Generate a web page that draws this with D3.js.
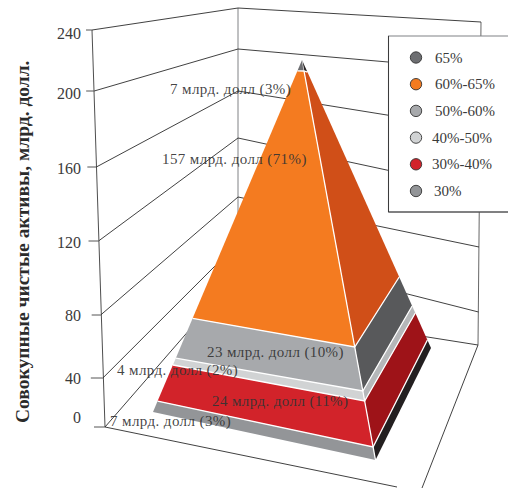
<!DOCTYPE html>
<html><head><meta charset="utf-8">
<script src="https://cdn.jsdelivr.net/npm/d3@7"></script>
<style>html,body{margin:0;padding:0;background:#fff}svg{display:block}text{font-family:"Liberation Serif",serif}</style>
</head><body><div id="c"></div>
<script>
// ---- data (bottom tier first) ----
const tiers  = ["30%","30%-40%","40%-50%","50%-60%","60%-65%","65%"];
const values = [7,24,4,23,157,7];
const shares = [3,11,2,10,71,3];
const unit   = "млрд. долл";
const axisTicks = [0,40,80,120,160,200,240];
const yTitle = "Совокупные чистые активы, млрд. долл.";

// ---- styles per tier ----
const frontColors = ["#939598","#d2232a","#d1d3d4","#a7a9ac","#f47b20","#6d6e71"];
const sideColors  = ["#231f20","#9e1318","#b5b7b9","#58595b","#d04f18","#231f20"];

// ---- layout ----
const W=508,H=488;
const svg=d3.select("#c").append("svg").attr("width",W).attr("height",H);

// wall projection: value -> screen y at each wall edge
const leftX  = d3.scaleLinear().domain([0,240]).range([105,92]);
const leftY  = d3.scaleLinear().domain(axisTicks).range([427,378,315,241,167,91,30]);
const backX  = 238;
const backYL = d3.scaleLinear().domain(axisTicks).range([274,243,197,138,91,49,8]);
const backYR = d3.scaleLinear().domain(axisTicks).range([307,251,197,138,91,49,8]);
const rightX = d3.scaleLinear().domain([0,240]).range([478,481]);
const rightY = d3.scaleLinear().domain(axisTicks).range([345,312,247,190,130,70,22]);
const tickLen= d3.scaleLinear().domain(axisTicks).range([11,12,9,10,9,8,6]);
const tickLabelDy=d3.scaleLinear().domain(axisTicks).range([-4.5,5.5,5.5,6.5,6.5,7.5,8.5]);

const walls=svg.append("g").attr("fill","none");
walls.append("line").attr("x1",backX).attr("x2",backX).attr("y1",backYL(240)).attr("y2",330).attr("stroke","#808285").attr("stroke-width",1);
walls.append("line").attr("x1",leftX(0)).attr("x2",leftX(240)).attr("y1",leftY(0)).attr("y2",leftY(240)).attr("stroke","#3a3a3a").attr("stroke-width",.9);
walls.append("line").attr("x1",rightX(0)).attr("x2",rightX(240)).attr("y1",rightY(0)).attr("y2",rightY(240)).attr("stroke","#555").attr("stroke-width",.9);
axisTicks.forEach(t=>{
  const p=d3.path();
  p.moveTo(leftX(t),leftY(t)); p.lineTo(backX,backYL(t));
  p.moveTo(backX,backYR(t)); p.lineTo(rightX(t),rightY(t));
  walls.append("path").attr("d",p).attr("stroke","#2b2b2b").attr("stroke-width",.9);
  walls.append("line").attr("x1",leftX(t)-tickLen(t)).attr("x2",leftX(t)).attr("y1",leftY(t)).attr("y2",leftY(t))
    .attr("stroke","#555").attr("stroke-width",1);
  svg.append("text").attr("x",81).attr("y",leftY(t)+tickLabelDy(t)).attr("text-anchor","end")
    .attr("font-size",16).attr("fill","#3a3a3a").text(t);
});
// floor
walls.append("line").attr("x1",leftX(0)).attr("y1",leftY(0)).attr("x2",397).attr("y2",487).attr("stroke","#2b2b2b").attr("stroke-width",.9);
walls.append("line").attr("x1",rightX(0)).attr("y1",rightY(0)).attr("x2",422).attr("y2",488).attr("stroke","#2b2b2b").attr("stroke-width",.9);

svg.append("text").attr("transform","translate(29,423) rotate(-90)").attr("font-size",19.5).attr("font-weight","bold").attr("fill","#2b2b2b").text(yTitle);

// pyramid: cumulative value -> fraction of the way from base corner to apex, per corner
const cum=[0]; values.forEach(v=>cum.push(cum[cum.length-1]+v));
const apex=[302,60], cornerA=[153,412], cornerB=[375.5,460], cornerC=[431,348];
const riseA=d3.scaleLinear().domain(cum).range([0,.031,.1335,.153,.266,.969,1]);
const riseB=d3.scaleLinear().domain(cum).range([0,.0325,.1475,.1725,.2825,.9725,1]);
const riseC=d3.scaleLinear().domain(cum).range([0,.028,.1215,.146,.2465,.958,1]);
const A=v=>d3.interpolate(cornerA,apex)(riseA(v));
const B=v=>d3.interpolate(cornerB,apex)(riseB(v));
const C=v=>d3.interpolate(cornerC,apex)(riseC(v));
const line=d3.line();
const pyr=svg.append("g");
values.forEach((v,i)=>{
  pyr.append("path").attr("d",line([B(cum[i]),C(cum[i]),C(cum[i+1]),B(cum[i+1])])+"Z").attr("fill",sideColors[i]);
  pyr.append("path").attr("d",line([A(cum[i]),B(cum[i]),B(cum[i+1]),A(cum[i+1])])+"Z").attr("fill",frontColors[i]);
});
// white seams between the tiers and along the front edge
const seams=svg.append("g").attr("fill","none").attr("stroke","#fff").attr("stroke-width",1.3);
cum.slice(1,-1).forEach(c=>{
  seams.append("path").attr("d",line([A(c),B(c),C(c)]));
});
seams.append("path").attr("d",line([B(cum[0]),B(cum[cum.length-2])]));
seams.append("path").attr("d",line([B(cum[cum.length-2]),apex])).attr("stroke-width",.5);

// labels
const labelPos=[[110,426],[212,406],[117,375],[207,357],[162,164],[170,94]];
values.forEach((v,i)=>{
  svg.append("text").attr("x",labelPos[i][0]).attr("y",labelPos[i][1]).attr("font-size",15).attr("letter-spacing",.4).attr("fill","#333").attr("fill-opacity",.92)
    .text(`${v} ${unit} (${shares[i]}%)`);
});

// legend
const lg=svg.append("g");
lg.append("path").attr("d",d3.line()([[W,36],[388.5,36],[388.5,212],[W,212]])).attr("fill","#fff").attr("stroke","#808285").attr("stroke-width",1.1);
lg.append("path").attr("d",d3.line()([[W,212],[388.5,212],[388.5,36]])).attr("fill","none").attr("stroke","#333").attr("stroke-width",.9);
const legendY=d3.scalePoint().domain(d3.range(6)).range([57.5,191]);
const legendTextX=[434,432,432,435,435,435];
tiers.slice().reverse().forEach((t,k)=>{
  const i=5-k;
  lg.append("circle").attr("cx",416).attr("cy",legendY(k)).attr("r",5.7).attr("fill",frontColors[i]).attr("stroke","#333").attr("stroke-width",.9);
  lg.append("text").attr("x",legendTextX[i]).attr("y",legendY(k)+5).attr("font-size",15).attr("fill","#3a3a3a").text(t);
});
</script></body></html>
